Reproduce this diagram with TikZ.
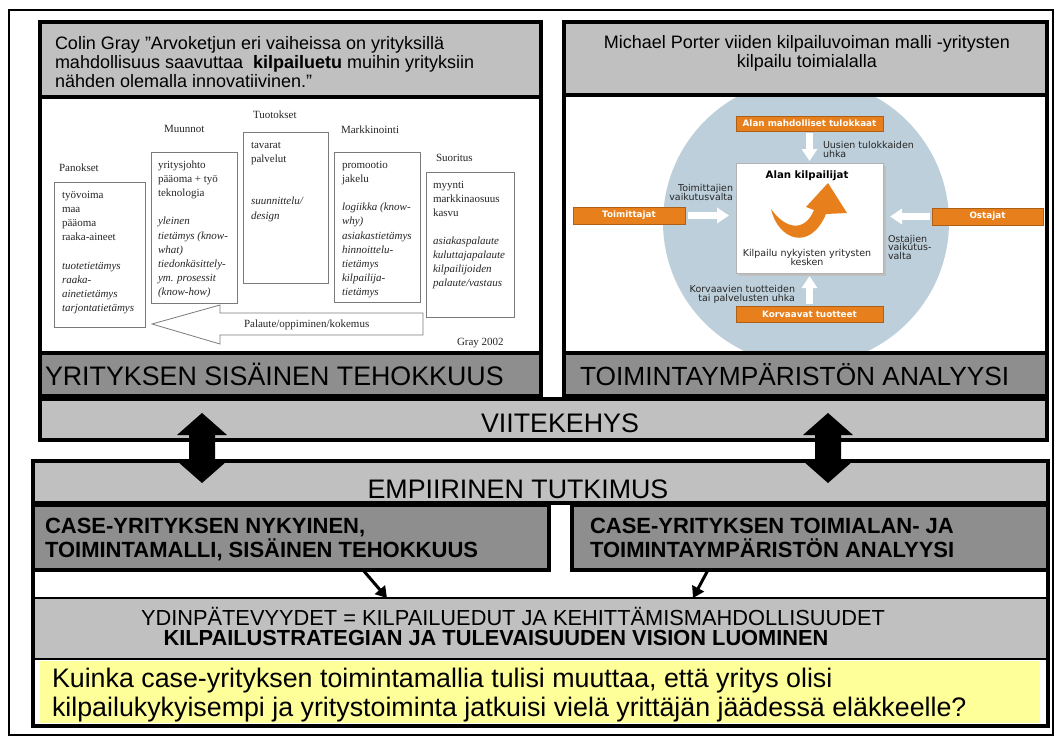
\documentclass[tikz,border=0pt]{standalone}
\usepackage{fontspec}
\setmainfont{Liberation Sans}
\newfontfamily\grayserif{Liberation Serif}
\newfontfamily\pfont{DejaVu Sans}
\usetikzlibrary{arrows.meta}
\definecolor{lgray}{HTML}{C0C0C0}
\definecolor{dgray}{HTML}{8E8E8E}
\definecolor{qyellow}{HTML}{FFFF99}
\definecolor{porange}{HTML}{E7801C}
\definecolor{pcircle}{HTML}{BDCFDA}
\definecolor{gline}{HTML}{7A7A7A}
\definecolor{gink}{HTML}{262626}
\newcommand\fz[2]{\fontsize{#1}{#2}\selectfont}
% rectangle node given by its top-left and bottom-right corners
\newcommand\rectnode[6]{\node[#1, anchor=north west, minimum width={#5pt-#3pt}, minimum height={#6pt-#4pt}] (#2) at (#3,#4) {};}
% column of text lines in the value-chain figure
\newcommand\glines[5]{\foreach \t [count=\i from 0] in {#5}
  \node[gtxt, anchor=base west] (#1\i) at (#2,{#3+14.2*\i}) {#4\t};}

\begin{document}
\begin{tikzpicture}[x=1pt, y=-1pt,
  box/.style={inner sep=0, outer sep=0, draw=black, line width=0.8pt},
  thickbox/.style={box, line width=3.5pt},
  txt/.style={inner sep=0, outer sep=0},
  gtxt/.style={txt, text=gink, font={\grayserif\fz{11}{13}}},
  gbox/.style={inner sep=0, outer sep=0, draw=gline, line width=0.8pt},
  ptxt/.style={txt, text=black!85, font={\pfont\fz{9.5}{9.5}}},
  obox/.style={inner sep=0, outer sep=0, fill=porange, draw=porange!75!black, line width=0.6pt},
  otxt/.style={txt, text=white, font={\pfont\bfseries\fz{8.8}{9}}},
  warrow/.style={draw=white, line width=7pt, -{Triangle[width=15pt,length=12pt]}},
  linkarrow/.style={line width=3pt, -{Triangle[width=13pt,length=11pt]}},
]
\useasboundingbox (0,0) rectangle (1062,747);
\fill[white] (0,0) rectangle (1062,747);
\rectnode{box, line width=1.5pt}{frame}{9}{10}{1053}{735}

% ---------- upper block: frame of reference ----------
\rectnode{box, fill=lgray}{grayhead}{40}{22}{541}{97}
\rectnode{box, fill=white}{grayimg}{40}{97}{541}{353}
\rectnode{box, fill=dgray}{sisbar}{40}{353}{541}{396}

\rectnode{box, fill=lgray}{porthead}{564}{22}{1047}{95}
\rectnode{box, fill=white}{portimg}{564}{95}{1047}{353}
\rectnode{box, fill=dgray}{toimbar}{564}{353}{1047}{396}

\rectnode{box, fill=lgray}{viite}{40}{399}{1047}{440}

\node[txt, anchor=base west, font=\fz{18}{19.5}] (quote1) at (55,49.5) {Colin Gray "Arvoketjun eri vaiheissa on yrityksillä};
\node[txt, anchor=base west, font=\fz{18}{19.5}] (quote2) at (55,68.5) {mahdollisuus saavuttaa\hspace{5pt} \textbf{kilpailuetu} muihin yrityksiin};
\node[txt, anchor=base west, font=\fz{18}{19.5}] (quote3) at (55,87) {nähden olemalla innovatiivinen.”};

\node[txt, anchor=base, font=\fz{18}{19.5}] (porter1) at (807,48) {Michael Porter viiden kilpailuvoiman malli -yritysten};
\node[txt, anchor=base, font=\fz{18}{19.5}] (porter2) at (807,67.5) {kilpailu toimialalla};

\node[txt, anchor=base west, font=\fz{26.8}{28}] (sislabel) at (45,385) {YRITYKSEN SISÄINEN TEHOKKUUS};
\node[txt, anchor=base west, font=\fz{26.3}{28}] (toimlabel) at (580,385) {TOIMINTAYMPÄRISTÖN ANALYYSI};
\node[txt, anchor=base, font=\fz{26.8}{28}] (viitelabel) at (560,432) {VIITEKEHYS};

% ---------- value chain figure (Gray 2002) ----------
\rectnode{gbox}{panbox}{54}{182}{145}{327}
\rectnode{gbox}{muubox}{151}{152}{237}{303}
\rectnode{gbox}{tuobox}{243}{132}{328}{283}
\rectnode{gbox}{marbox}{334}{152}{420}{302}
\rectnode{gbox}{suobox}{426}{172}{514}{317}

\node[gtxt, anchor=base west] (panhead) at (59,171) {Panokset};
\node[gtxt, anchor=base west] (muuhead) at (164,132) {Muunnot};
\node[gtxt, anchor=base west] (tuohead) at (253,118) {Tuotokset};
\node[gtxt, anchor=base west] (marhead) at (341,133) {Markkinointi};
\node[gtxt, anchor=base west] (suohead) at (436,161) {Suoritus};

\glines{pa}{62}{198}{}{työvoima, maa, pääoma, raaka-aineet}
\glines{pi}{62}{269}{\itshape}{tuotetietämys, raaka-, ainetietämys, tarjontatietämys}
\glines{ma}{158}{168}{}{yritysjohto, pääoma + työ, teknologia}
\glines{mi}{158}{224.8}{\itshape}{yleinen, tietämys (know-, what), tiedonkäsittely-, ym. prosessit, (know-how)}
\glines{ta}{251}{148}{}{tavarat, palvelut}
\glines{ti}{251}{204.8}{\itshape}{suunnittelu/, design}
\glines{ka}{342}{168}{}{promootio, jakelu}
\glines{ki}{342}{210.6}{\itshape}{logiikka (know-, why), asiakastietämys, hinnoittelu-, tietämys, kilpailija-, tietämys}
\glines{sa}{433}{188}{}{myynti, markkinaosuus, kasvu}
\glines{si}{433}{244}{\itshape}{asiakaspalaute, kuluttajapalaute, kilpailijoiden, palaute/vastaus}

% feedback arrow
\draw[gline, line width=0.8pt, fill=white] (152,324) -- (220,305) -- (220,313) -- (423,313)
  -- (423,335) -- (220,335) -- (220,344) -- cycle;
\node[gtxt, anchor=base west] (feedback) at (244,327) {Palaute/oppiminen/kokemus};
\node[gtxt, anchor=base west] (graysrc) at (457,345) {Gray 2002};

% ---------- five forces figure ----------
\begin{scope}
  \clip (portimg.north west) rectangle (portimg.south east);
  \fill[pcircle] (806,222) circle[radius=143pt];
\end{scope}
\fill[black!25] (738.5,165.5) rectangle (885.5,275.5);
\rectnode{box, draw=black!30, fill=white, line width=0.5pt}{rivals}{736}{163}{883}{273}

\rectnode{obox}{entrants}{736}{116}{883}{131}
\rectnode{obox}{substitutes}{736}{306}{883}{322}
\rectnode{obox}{suppliers}{573}{207}{685}{224}
\rectnode{obox}{buyers}{932}{208}{1043}{225}
\node[otxt] (entrantslabel) at (entrants.center) {Alan mahdolliset tulokkaat};
\node[otxt] (substituteslabel) at (substitutes.center) {Korvaavat tuotteet};
\node[otxt] (supplierslabel) at (suppliers.center) {Toimittajat};
\node[otxt] (buyerslabel) at (buyers.center) {Ostajat};

\draw[warrow, shorten <=2pt, shorten >=2pt] (entrants.south) -- (rivals.north);
\draw[warrow, shorten <=2pt, shorten >=3pt] (substitutes.north) -- (rivals.south);
\draw[warrow, shorten <=3pt, shorten >=7pt] (suppliers.east) -- (suppliers.east -| rivals.west);
\draw[warrow, shorten <=2pt, shorten >=7pt] (buyers.west) -- (buyers.west -| rivals.east);

% rivalry swirl
\fill[porange] (771,209) .. controls (778,240) and (810,252) .. (826,214)
  -- (847,213) -- (828,183) -- (806,207) -- (814,210)
  .. controls (805,232) and (786,230) .. (771,209) -- cycle;

\node[txt, font={\pfont\bfseries\fz{10.2}{11}}, anchor=base] (rivalstitle) at (807,178) {Alan kilpailijat};
\node[ptxt, anchor=base] (rivals1) at (807,256) {Kilpailu nykyisten yritysten};
\node[ptxt, anchor=base] (rivals2) at (807,265) {kesken};
\node[ptxt, anchor=base west] (entr1) at (823,148) {Uusien tulokkaiden};
\node[ptxt, anchor=base west] (entr2) at (823,157) {uhka};
\node[ptxt, anchor=base east] (supp1) at (733,191) {Toimittajien};
\node[ptxt, anchor=base east] (supp2) at (733,200) {vaikutusvalta};
\node[ptxt, anchor=base west] (buy1) at (888,242) {Ostajien};
\node[ptxt, anchor=base west] (buy2) at (888,250.5) {vaikutus-};
\node[ptxt, anchor=base west] (buy3) at (888,259) {valta};
\node[ptxt, anchor=base east] (subs1) at (795,292) {Korvaavien tuotteiden};
\node[ptxt, anchor=base east] (subs2) at (795,301) {tai palvelusten uhka};

% heavy outlines of the upper panels
\draw[line width=3.5pt] (grayhead.north west) rectangle (sisbar.south east);
\draw[line width=3.5pt] (grayimg.north west) rectangle (grayimg.south east);
\draw[line width=3.5pt] (porthead.north west) rectangle (toimbar.south east);
\draw[line width=3.5pt] (portimg.north west) rectangle (portimg.south east);
\draw[line width=3.5pt] (viite.north west) rectangle (viite.south east);

% ---------- lower block: empirical study ----------
\rectnode{box, fill=white}{lower}{33}{461}{1048}{726}
\rectnode{thickbox, fill=lgray}{emp}{33}{461}{1048}{503}
\rectnode{thickbox, fill=dgray}{caseL}{33}{505}{549}{570}
\rectnode{thickbox, fill=dgray}{caseR}{572}{505}{1048}{570}
\rectnode{box, line width=2pt, fill=lgray}{ydin}{33}{598}{1048}{659}
\rectnode{txt, fill=qyellow}{kysymys}{40}{661}{1040}{723}
\draw[line width=3.5pt] (lower.north west) rectangle (lower.south east);

\node[txt, anchor=base, font=\fz{26.8}{28}] (emplabel) at (518,498) {EMPIIRINEN TUTKIMUS};
\node[txt, anchor=base west, font={\bfseries\fz{22}{24}}] (caseL1) at (45,533) {CASE-YRITYKSEN NYKYINEN,};
\node[txt, anchor=base west, font={\bfseries\fz{22}{24}}] (caseL2) at (45,557) {TOIMINTAMALLI, SISÄINEN TEHOKKUUS};
\node[txt, anchor=base west, font={\bfseries\fz{22}{24}}] (caseR1) at (590,533) {CASE-YRITYKSEN TOIMIALAN- JA};
\node[txt, anchor=base west, font={\bfseries\fz{22}{24}}] (caseR2) at (590,557) {TOIMINTAYMPÄRISTÖN ANALYYSI};
\node[txt, anchor=base, font=\fz{21.8}{22}] (ydin1) at (513,625) {YDINPÄTEVYYDET = KILPAILUEDUT JA KEHITTÄMISMAHDOLLISUUDET};
\node[txt, anchor=base, font={\bfseries\fz{21.8}{22}}] (ydin2) at (496,645) {KILPAILUSTRATEGIAN JA TULEVAISUUDEN VISION LUOMINEN};
\node[txt, anchor=base west, font=\fz{26.8}{30}] (kys1) at (52,687) {Kuinka case-yrityksen toimintamallia tulisi muuttaa, että yritys olisi};
\node[txt, anchor=base west, font=\fz{26.8}{30}] (kys2) at (52,716) {kilpailukykyisempi ja yritystoiminta jatkuisi vielä yrittäjän jäädessä eläkkeelle?};

\draw[linkarrow] ([xshift=72pt]caseL.south) -- ([xshift=-153.5pt]ydin.north);
\draw[linkarrow] ([xshift=-102pt]caseR.south) -- ([xshift=152.5pt]ydin.north);

% double arrows between frame of reference and empirical study
\coordinate (lefttop) at (202,413);
\coordinate (righttop) at (828,413);
\foreach \c in {lefttop, righttop}
  \fill (\c) -- ++(25,22) -- ++(-12,0) -- ++(0,26) -- ++(12,0) -- ++(-25,22)
    -- ++(-25,-22) -- ++(12,0) -- ++(0,-26) -- ++(-12,0) -- cycle;
\end{tikzpicture}
\end{document}
